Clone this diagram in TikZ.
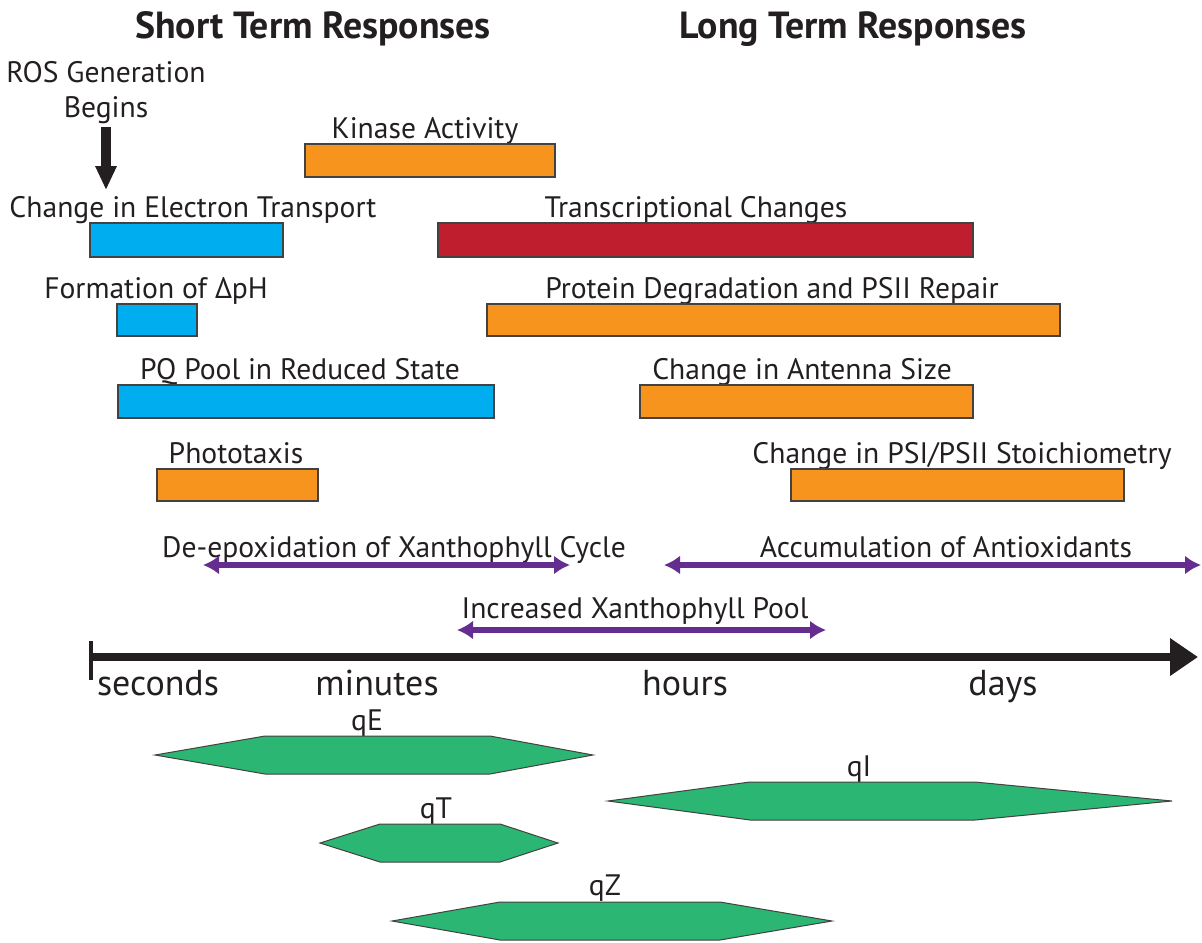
\documentclass[tikz,border=0pt]{standalone}
\usepackage{fontspec}
\setmainfont{PT Sans}
\usetikzlibrary{arrows.meta}
\definecolor{barblue}{HTML}{00AEEF}
\definecolor{barorange}{HTML}{F7941D}
\definecolor{barred}{HTML}{BE1E2D}
\definecolor{arrpurple}{HTML}{662D91}
\definecolor{hexgreen}{HTML}{2BB673}
\definecolor{inkdark}{HTML}{231F20}
\tikzset{
  lbl/.style={anchor=base, inner sep=0pt, text=inkdark, font=\fontsize{14.8}{17}\selectfont},
  axislbl/.style={anchor=base, inner sep=0pt, text=inkdark, font=\fontsize{18}{20}\selectfont},
  title/.style={anchor=base, inner sep=0pt, text=inkdark, font=\fontsize{18.9}{21}\selectfont\bfseries},
  bar/.style={draw=inkdark!85, line width=0.6pt},
  hexa/.style={draw=inkdark!85, line width=0.5pt, fill=hexgreen},
  span/.style={arrpurple, line width=2.6pt, {Latex[length=8pt,width=9.5pt]}-{Latex[length=8pt,width=9.5pt]}},
}
\begin{document}
\begin{tikzpicture}[x=0.5pt, y=-0.5pt]
\useasboundingbox (0,0) rectangle (1202,942);

% column headings
\node[title] (hs) at (313,38) {Short Term Responses};
\node[title] (hl) at (853,38) {Long Term Responses};

% onset marker
\node[lbl] (ros1) at (106,82) {ROS Generation};
\node[lbl] (ros2) at (106,117) {Begins};
\coordinate (rosstart) at (106,127);
\coordinate (rosend) at (106,190);
\draw[inkdark, line width=5pt, -{Triangle[length=12pt,width=10pt]}] (rosstart) -- (rosend);

% short term bars
\node[lbl] (et) at (193,217) {Change in Electron Transport};
\draw[bar, fill=barblue] (90,223) rectangle (283,257);
\node[lbl] (dph) at (156,298) {Formation of ΔpH};
\draw[bar, fill=barblue] (117,304) rectangle (197,336);
\node[lbl] (pq) at (300,379) {PQ Pool in Reduced State};
\draw[bar, fill=barblue] (118,385) rectangle (494,418);
\node[lbl] (pt) at (236,463) {Phototaxis};
\draw[bar, fill=barorange] (157,469) rectangle (318,501);
\node[lbl] (ka) at (425,138) {Kinase Activity};
\draw[bar, fill=barorange] (305,144) rectangle (555,177);

% long term bars
\node[lbl] (tc) at (696,217) {Transcriptional Changes};
\draw[bar, fill=barred] (438,223) rectangle (973,257);
\node[lbl] (pd) at (772,298) {Protein Degradation and PSII Repair};
\draw[bar, fill=barorange] (487,304) rectangle (1060,336);
\node[lbl] (an) at (802,379) {Change in Antenna Size};
\draw[bar, fill=barorange] (640,385) rectangle (973,418);
\node[lbl] (st) at (962,463) {Change in PSI/PSII Stoichiometry};
\draw[bar, fill=barorange] (791,469) rectangle (1124,501);

% pigment spans
\node[lbl] (dx) at (394,557) {De-epoxidation of Xanthophyll Cycle};
\coordinate (dxa) at (203,565); \coordinate (dxb) at (570,565);
\draw[span] (dxa) -- (dxb);
\node[lbl] (ax) at (946,557) {Accumulation of Antioxidants};
\coordinate (axa) at (664,565); \coordinate (axb) at (1201,565);
\draw[span] (axa) -- (axb);
\node[lbl] (xp) at (635,618) {Increased Xanthophyll Pool};
\coordinate (xpa) at (457,630); \coordinate (xpb) at (826,630);
\draw[span] (xpa) -- (xpb);

% time axis
\coordinate (t0) at (91,657);
\coordinate (t1) at (1198,657);
\draw[inkdark, line width=4pt, -{Triangle[length=14pt,width=18pt]}] (t0) -- (t1);
\draw[inkdark, line width=1.6pt] (91,641) -- (91,680);
\node[axislbl] (sec) at (158,695) {seconds};
\node[axislbl] (min) at (377,695) {minutes};
\node[axislbl] (hr) at (685,695) {hours};
\node[axislbl] (dy) at (1003,695) {days};

% quenching components
\node[lbl] (qe) at (367,730) {qE};
\draw[hexa] (155,755) -- (265,736) -- (490,736) -- (593,755) -- (490,774) -- (265,774) -- cycle;
\node[lbl] (qi) at (859,776) {qI};
\draw[hexa] (608,801) -- (750,782) -- (975,782) -- (1172,801) -- (975,820) -- (750,820) -- cycle;
\node[lbl] (qt) at (436,818) {qT};
\draw[hexa] (320,843) -- (380,824) -- (500,824) -- (558,843) -- (500,862) -- (380,862) -- cycle;
\node[lbl] (qz) at (605,895) {qZ};
\draw[hexa] (392,921) -- (500,902) -- (720,902) -- (832,921) -- (720,940) -- (500,940) -- cycle;
\end{tikzpicture}
\end{document}
